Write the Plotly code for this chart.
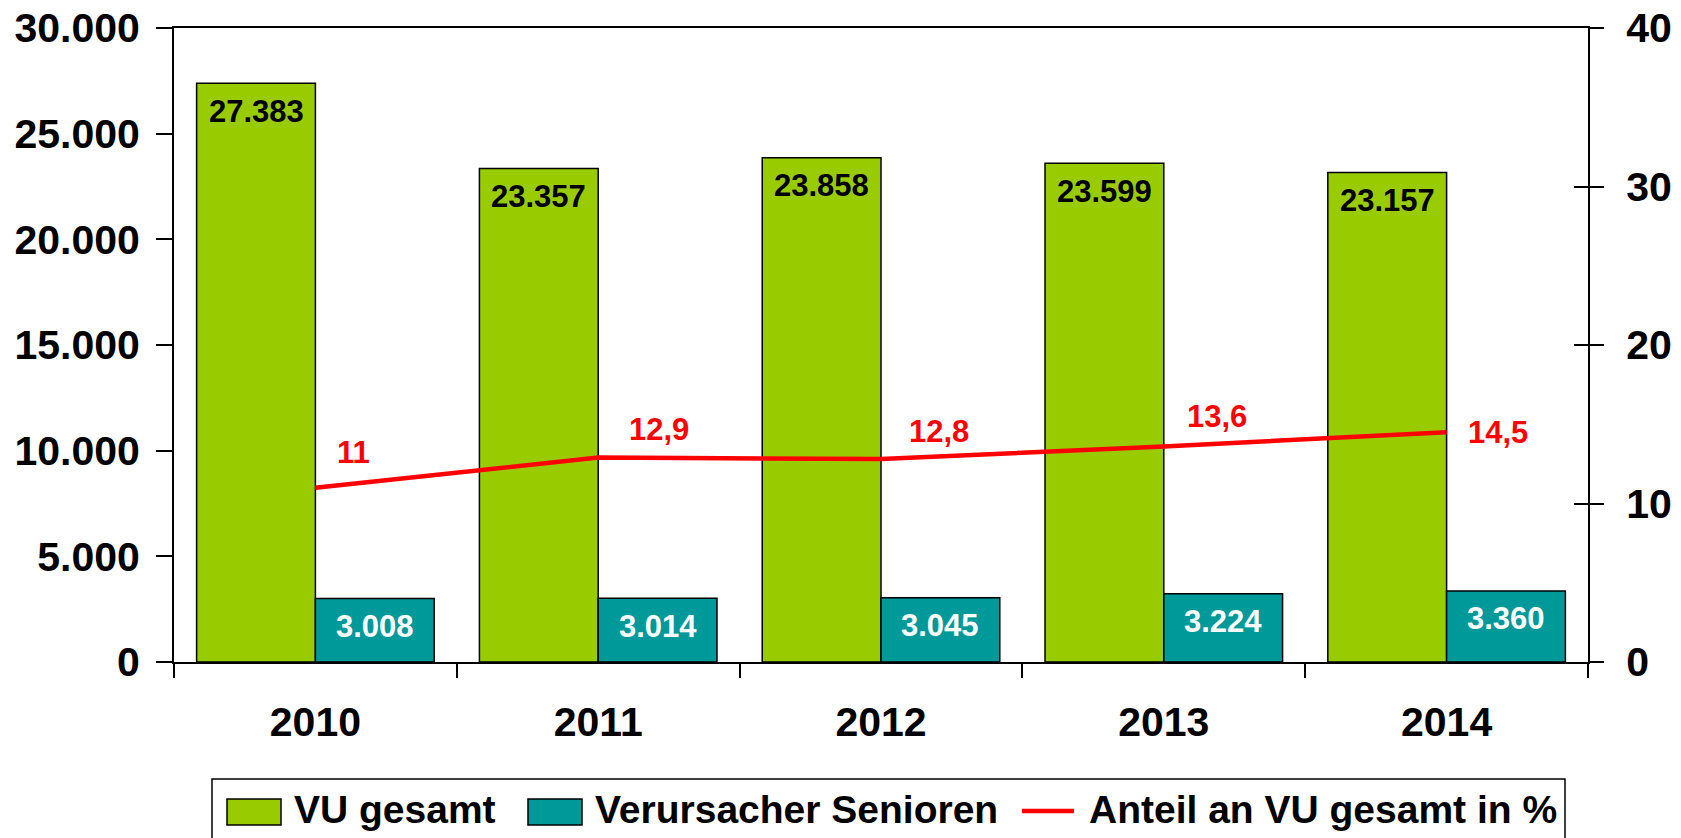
import plotly.graph_objects as go

years = ["2010", "2011", "2012", "2013", "2014"]
vu_gesamt = [27383, 23357, 23858, 23599, 23157]
senioren = [3008, 3014, 3045, 3224, 3360]
anteil = [11, 12.9, 12.8, 13.6, 14.5]
series_names = ["VU gesamt", "Verursacher Senioren", "Anteil an VU gesamt in %"]

GREEN = "#99CC00"
TEAL = "#009999"
RED = "#FF0000"
FONT = "Liberation Sans, Arial, sans-serif"

def de(n):
    return f"{n:,}".replace(",", ".")

fig = go.Figure()
fig.add_trace(go.Bar(
    x=years, y=vu_gesamt, name=series_names[0],
    marker=dict(color=GREEN, line=dict(color="black", width=1.5)),
    showlegend=False,
))
fig.add_trace(go.Bar(
    x=years, y=senioren, name=series_names[1],
    marker=dict(color=TEAL, line=dict(color="black", width=1.5)),
    showlegend=False,
))
fig.add_trace(go.Scatter(
    x=years, y=anteil, name=series_names[2], yaxis="y2", mode="lines",
    line=dict(color=RED, width=4.5), showlegend=False,
))
# invisible helper trace so the inner-tick overlay axis is drawn
fig.add_trace(go.Scatter(x=years, y=anteil, yaxis="y3", mode="lines",
                         line=dict(width=0), opacity=0,
                         showlegend=False, hoverinfo="skip"))

# page offset: browser body margin of 8px
OFF = 8
L, R, T, B = 174, 1588, 28, 662
PW, PH = R - L, B - T
BARGAP = 0.16
half_bar_px = PW / len(years) * (1 - BARGAP) / 4   # offset from category centre to bar centre

# bar value labels (inside, near top)
for vals, col, sign in [(vu_gesamt, "black", -1), (senioren, "white", 1)]:
    for i, v in enumerate(vals):
        fig.add_annotation(x=i, y=v, xref="x", yref="y", text=de(v), showarrow=False,
                           xanchor="center", yanchor="middle",
                           xshift=sign * half_bar_px, yshift=-28,
                           font=dict(family=FONT, size=31, color=col, weight="bold"))

# line value labels (offsets in px); category axes take index positions
shifts = [(20, 35), (29, 28), (26, 28), (21, 30), (19, 0)]
for i, (v, (dx, dy)) in enumerate(zip(anteil, shifts)):
    fig.add_annotation(x=i, y=v, xref="x", yref="y2", text=f"{v:g}".replace(".", ","),
                       showarrow=False, xanchor="left", yanchor="middle",
                       xshift=dx, yshift=dy,
                       font=dict(family=FONT, size=31, color=RED, weight="bold"))

def px(x):
    return (x - L) / PW
def py(y):
    return (B - y) / PH

# custom legend
fig.add_shape(type="rect", xref="paper", yref="paper", x0=px(212), x1=px(1565),
              y0=py(779), y1=py(860), line=dict(color="black", width=1.5),
              fillcolor="white", layer="above")
for (x0, x1, col) in [(227, 281, GREEN), (528, 582, TEAL)]:
    fig.add_shape(type="rect", xref="paper", yref="paper", x0=px(x0), x1=px(x1),
                  y0=py(825), y1=py(799), fillcolor=col,
                  line=dict(color="black", width=1.5), layer="above")
fig.add_shape(type="line", xref="paper", yref="paper", x0=px(1022), x1=px(1074),
              y0=py(811), y1=py(811), line=dict(color=RED, width=4.5), layer="above")
for xl, name in zip([292, 593, 1087], series_names):
    fig.add_annotation(xref="paper", yref="paper", x=px(xl), y=py(810), text=name,
                       showarrow=False, xanchor="left", yanchor="middle",
                       font=dict(family=FONT, size=39, color="black", weight="bold"))

tickfont = dict(family=FONT, size=41, color="black", weight="bold")
fig.update_layout(
    width=1681, height=838,
    margin=dict(l=L - OFF, r=1681 - R + OFF, t=T - OFF, b=838 - B + OFF),
    paper_bgcolor="white", plot_bgcolor="white",
    separators=",.",
    barmode="group", bargap=BARGAP, bargroupgap=0,
    font=dict(family=FONT, color="black"),
    xaxis=dict(type="category", tickson="boundaries", ticks="outside", ticklen=14,
               tickwidth=1.5, tickcolor="black", showline=True, linecolor="black",
               linewidth=2, mirror=True, showgrid=False, tickfont=tickfont,
               ticklabelstandoff=23, tickangle=0, range=[-0.5, 4.5], automargin=False,
               ticklabeloverflow="allow"),
    yaxis=dict(range=[0, 30000], tickvals=[0, 5000, 10000, 15000, 20000, 25000, 30000],
               tickformat=",d", ticks="outside", ticklen=16, tickwidth=1.5,
               tickcolor="black", showline=True, linecolor="black", linewidth=2,
               mirror=True, showgrid=False, zeroline=False, tickfont=tickfont,
               ticklabelstandoff=8, automargin=False, ticklabeloverflow="allow"),
    yaxis2=dict(range=[0, 40], tickvals=[0, 10, 20, 30, 40], overlaying="y", side="right",
                ticks="outside", ticklen=14, tickwidth=1.5, tickcolor="black",
                showline=True, linecolor="black", linewidth=2, showgrid=False,
                zeroline=False, tickfont=tickfont, ticklabelstandoff=14, automargin=False,
                ticklabeloverflow="allow"),
    yaxis3=dict(range=[0, 40], tickvals=[0, 10, 20, 30, 40], overlaying="y", side="right",
                ticks="inside", ticklen=14, tickwidth=1.5, tickcolor="black",
                showticklabels=False, showline=False, showgrid=False, zeroline=False,
                automargin=False),
)

fig.write_html("out.html")
